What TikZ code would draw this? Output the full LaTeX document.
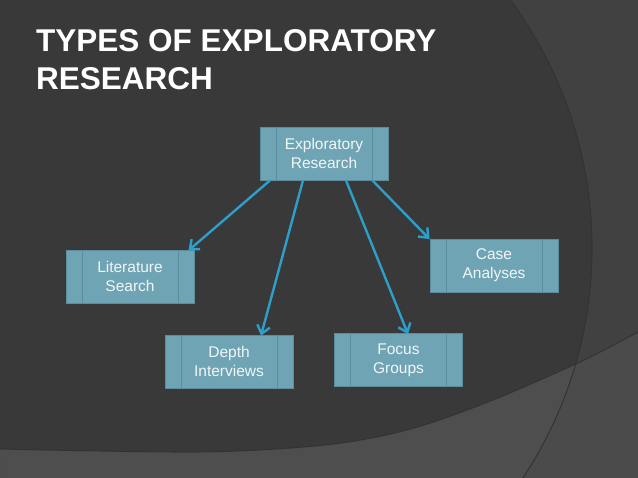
\documentclass[tikz,border=0pt]{standalone}
\usepackage{fontspec}
\setmainfont{Liberation Sans}
\usetikzlibrary{arrows.meta}
\definecolor{bgmain}{HTML}{393939}
\definecolor{bgright}{HTML}{414141}
\definecolor{bandcol}{HTML}{4E4E4E}
\definecolor{bandright}{HTML}{4B4B4B}
\definecolor{arcline}{HTML}{333333}
\definecolor{boxfill}{HTML}{6FA4B5}
\definecolor{boxedge}{HTML}{5A8E9F}
\definecolor{arrowcol}{HTML}{2E9FCB}
\definecolor{boxtext}{HTML}{F2F6F7}
\tikzset{
  typebox/.style={rectangle, fill=boxfill, draw=boxedge, line width=0.8bp,
    minimum width=128bp, minimum height=53bp, inner sep=0pt,
    text=boxtext, align=center,
    font=\fontsize{15.5bp}{19bp}\selectfont,
    path picture={
      \draw[boxedge, line width=0.8bp]
        ([xshift=16bp]path picture bounding box.north west) --
        ([xshift=16bp]path picture bounding box.south west);
      \draw[boxedge, line width=0.8bp]
        ([xshift=-16bp]path picture bounding box.north east) --
        ([xshift=-16bp]path picture bounding box.south east);
    }},
  link/.style={draw=arrowcol, line width=2.4bp,
    -{Straight Barb[length=8bp,width=13bp,line width=2.4bp]}},
  titletext/.style={inner sep=0pt, text=white, anchor=base west,
    font=\fontsize{31.5bp}{38bp}\selectfont\bfseries}
}
\begin{document}
\begin{tikzpicture}[x=1bp,y=-1bp]
\useasboundingbox (0,0) rectangle (638,478);
% background
\fill[bgmain] (0,0) rectangle (638,478);
\fill[bgright, even odd rule] (0,0) rectangle (638,478) (175,248) circle[radius=417bp];
\begin{scope}
  \clip plot[smooth] coordinates {(0,449) (200,452) (325,445) (407,430) (488,402) (580,362) (638,332)} -- (638,478) -- (0,478) -- cycle;
  \fill[bandcol] (0,0) rectangle (638,478);
  \fill[bandright, even odd rule] (0,0) rectangle (638,478) (175,248) circle[radius=417bp];
\end{scope}
\draw[arcline, line width=1bp] (175,248) circle[radius=417bp];
\draw[arcline, line width=1bp] plot[smooth] coordinates {(0,449) (200,452) (325,445) (407,430) (488,402) (580,362) (638,332)};
% title
\node[titletext] (t1) at (36,52) {TYPES OF EXPLORATORY};
\node[titletext] (t2) at (36,90) {RESEARCH};
% boxes
\node[typebox] (er) at (324,153.5) {Exploratory\\Research};
\node[typebox] (ls) at (130,276.5) {Literature\\Search};
\node[typebox] (di) at (229,361.5) {Depth\\Interviews};
\node[typebox] (fg) at (398.5,360) {Focus\\Groups};
\node[typebox] (ca) at (494,265.5) {Case\\Analyses};
% arrows
\draw[link] ([xshift=-54bp]er.south) -- ([xshift=-6bp,yshift=-1bp]ls.north east);
\draw[link] ([xshift=-21bp]er.south) -- ([xshift=32bp,yshift=-1bp]di.north);
\draw[link] ([xshift=22bp]er.south) -- ([xshift=9.5bp,yshift=-1bp]fg.north);
\draw[link] ([xshift=-16bp]er.south east) -- ([yshift=-0.5bp]ca.north west);
\end{tikzpicture}
\end{document}
